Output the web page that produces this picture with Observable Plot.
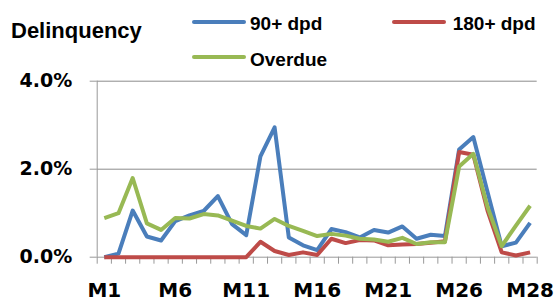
<!DOCTYPE html>
<html>
<head>
<meta charset="utf-8">
<script src="https://cdn.jsdelivr.net/npm/d3@7"></script>
<script src="https://cdn.jsdelivr.net/npm/@observablehq/plot@0.6"></script>
<style>
  html, body { margin: 0; padding: 0; background: #fff; }
  #wrap { position: relative; width: 556px; height: 302px; overflow: hidden; }
  #wrap svg { position: absolute; left: 0; top: 0; }
  .lbl { position: absolute; font-family: "Liberation Sans", Arial, sans-serif; font-weight: bold; color: #000; line-height: 1; white-space: nowrap; }
  .title { font-size: 22px; left: 11px; top: 19.7px; }
  .leg { font-size: 19px; }
  .sw { position: absolute; height: 4px; width: 54px; border-radius: 2px; }
</style>
</head>
<body>
<div id="wrap"></div>
<script>
// Categories (31 periods) and axis tick labels
const categories = d3.range(1, 32);
const tickIdx = [1, 6, 11, 16, 21, 26, 31];
const tickLabels = ["M1", "M6", "M11", "M16", "M21", "M26", "M28"];

// Series values in percent
const dpd90 = [0.00, 0.08, 1.06, 0.47, 0.38, 0.82, 0.95, 1.05, 1.39, 0.75, 0.50,
               2.29, 2.95, 0.45, 0.27, 0.16, 0.64, 0.57, 0.45, 0.62, 0.56,
               0.70, 0.42, 0.51, 0.48, 2.45, 2.73, 1.48, 0.25, 0.33, 0.78];
const dpd180 = [0, 0, 0, 0, 0, 0, 0, 0, 0, 0, 0,
                0.35, 0.14, 0.05, 0.11, 0.05, 0.42, 0.32, 0.39, 0.38, 0.27,
                0.29, 0.30, 0.33, 0.36, 2.39, 2.33, 1.06, 0.11, 0.04, 0.11];
const overdue = [0.89, 1.00, 1.80, 0.77, 0.62, 0.89, 0.88, 0.98, 0.95, 0.83, 0.71,
                 0.65, 0.87, 0.71, 0.60, 0.48, 0.53, 0.49, 0.42, 0.40, 0.35,
                 0.44, 0.30, 0.34, 0.34, 2.06, 2.35, 1.14, 0.25, 0.72, 1.17];

const seriesNames = ["90+ dpd", "180+ dpd", "Overdue"];
const seriesColors = ["#4a7ebb", "#be4b48", "#98b954"];
const seriesValues = [dpd90, dpd180, overdue];
const yTicks = [0, 2, 4];

const data = seriesValues.flatMap((vals, s) =>
  vals.map((v, i) => ({ series: seriesNames[s], x: categories[i], y: v })));

const boundaries = [categories[0] - 0.5, ...categories.map(c => c + 0.5)];
const axisFont = '"DejaVu Sans", sans-serif';

const W = 556, H = 302, mL = 96.7, mR = 19.3, mT = 80.7, mB = 45.3;
const yMax = yTicks[yTicks.length - 1];
const tickLen = 7 * yMax / (H - mT - mB); // 7px expressed in y units

const chart = Plot.plot({
  width: W,
  height: H,
  marginLeft: mL,
  marginRight: mR,
  marginTop: mT,
  marginBottom: mB,
  style: { background: "transparent", overflow: "visible" },
  x: { type: "linear", domain: [boundaries[0], boundaries[boundaries.length - 1]], label: null },
  y: { domain: [0, yMax], label: null },
  color: { domain: seriesNames, range: seriesColors },
  marks: [
    Plot.gridY(yTicks.filter(d => d > 0), { stroke: "#8c8c8c", strokeOpacity: 1, strokeWidth: 1 }),
    Plot.ruleX(boundaries, { y1: 0, y2: -tickLen, stroke: "#999", strokeWidth: 1 }),
    Plot.ruleY([0], { stroke: "#999", strokeWidth: 1 }),
    Plot.ruleX([boundaries[0]], { y1: 0, y2: yMax, stroke: "#999", strokeWidth: 1 }),
    Plot.axisX({ ticks: tickIdx, tickFormat: d => tickLabels[tickIdx.indexOf(d)], tickSize: 0,
                 tickPadding: 26, fontSize: 20, fontWeight: "bold", fontFamily: axisFont, fill: "#000", label: null }),
    Plot.axisY({ ticks: yTicks, tickFormat: d => d.toFixed(1) + "%", tickSize: 7, tickPadding: 18,
                 stroke: "#999", strokeOpacity: 1, fontSize: 19, fontWeight: "bold", fontFamily: axisFont, fill: "#000", label: null }),
    Plot.line(data, { x: "x", y: "y", z: "series", stroke: "series", strokeWidth: 4,
                      strokeLinecap: "butt", strokeLinejoin: "round" })
  ]
});

const wrap = document.getElementById("wrap");
wrap.appendChild(chart);

function addLabel(text, cls, left, top) {
  const d = document.createElement("div");
  d.className = "lbl " + cls;
  d.textContent = text;
  if (left != null) d.style.left = left + "px";
  if (top != null) d.style.top = top + "px";
  wrap.appendChild(d);
}
function addSwatch(color, left, cy) {
  const s = document.createElement("div");
  s.className = "sw";
  s.style.background = color;
  s.style.left = left + "px";
  s.style.top = (cy - 2) + "px";
  wrap.appendChild(s);
}
addLabel("Delinquency", "title");
const legendPos = [[191.7, 21.7, 250, 13.9], [392.3, 21.7, 452.7, 13.9], [191.7, 56.7, 250, 49.9]];
seriesNames.forEach((n, i) => {
  const [sx, sy, tx, ty] = legendPos[i];
  addSwatch(seriesColors[i], sx, sy);
  addLabel(n, "leg", tx, ty);
});
</script>
</body>
</html>
